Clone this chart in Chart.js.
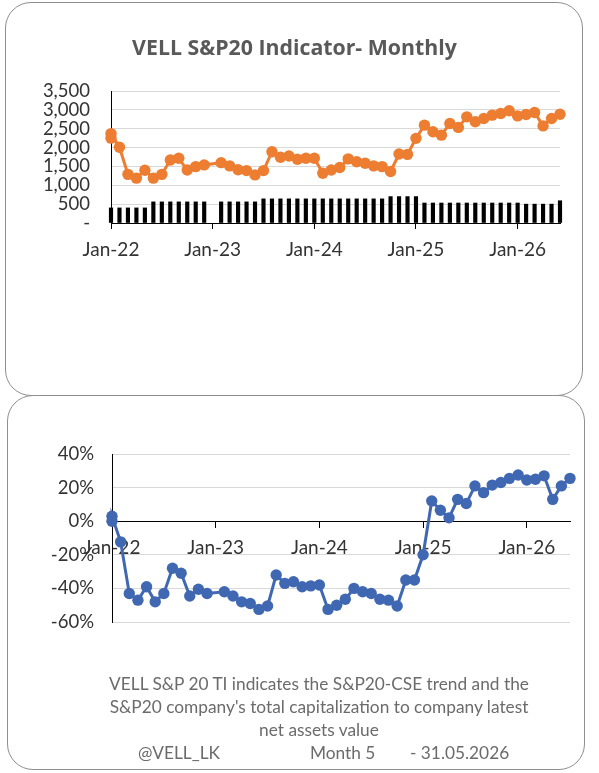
<!DOCTYPE html>
<html>
<head>
<meta charset="utf-8">
<script src="https://cdn.jsdelivr.net/npm/chart.js@4.4.1/dist/chart.umd.min.js"></script>
<style>
  body { margin: 0; background: #fff; }
  #page { position: relative; width: 599px; height: 773px; overflow: hidden; font-family: Lato, "Open Sans", sans-serif; }
  .panel { position: absolute; border: 1.3px solid #8f8f8f; border-radius: 26px; box-sizing: border-box; background: transparent; }
  #p1 { left: 5px; top: 2px; width: 578px; height: 394px; }
  #p2 { left: 7px; top: 395px; width: 578px; height: 375px; }
  canvas { position: absolute; left: 0; }
  #c1 { top: 0; }
  #c2 { top: 396px; }
  #title { position: absolute; left: 0; width: 589px; top: 32px; text-align: center; font-family: "Open Sans", Lato, sans-serif; font-weight: bold; font-size: 21.3px; color: #595959; }
  #note { position: absolute; left: 20px; width: 598px; top: 672px; text-align: center; font-size: 17.3px; line-height: 23px; color: #6b6b6b; }
  .foot { position: absolute; top: 741px; font-size: 17.3px; line-height: 23px; color: #6b6b6b; white-space: pre; }
</style>
</head>
<body>
<div id="page">
  <div class="panel" id="p1"></div>
  <div class="panel" id="p2"></div>
  <canvas id="c1" width="599" height="395"></canvas>
  <canvas id="c2" width="599" height="374"></canvas>
  <div id="title">VELL S&amp;P20 Indicator- Monthly</div>
  <div id="note">VELL S&amp;P 20 TI indicates the S&amp;P20-CSE trend and the<br>S&amp;P20 company's total capitalization to company latest<br>net assets value</div>
  <div class="foot" style="left:138px">@VELL_LK</div>
  <div class="foot" style="left:310px">Month 5</div>
  <div class="foot" style="left:410px">- 31.05.2026</div>
</div>
<script>
// months counted from Jan-22 (0 = start, 1 = end of Jan-22 ...), Dec-22 missing
var tickMonths = [0, 12, 24, 36, 48];
var tickLabels = ["Jan-22", "Jan-23", "Jan-24", "Jan-25", "Jan-26"];

var months = [0, 0, 1, 2, 3, 4, 5, 6, 7, 8, 9, 10, 11,
  13, 14, 15, 16, 17, 18, 19, 20, 21, 22, 23, 24,
  25, 26, 27, 28, 29, 30, 31, 32, 33, 34, 35, 36,
  37, 38, 39, 40, 41, 42, 43, 44, 45, 46, 47, 48,
  49, 50, 51, 52, 53];

var indicator = [2250, 2370, 2010, 1290, 1190, 1400, 1190, 1290, 1670, 1715, 1405, 1495, 1540,
  1600, 1515, 1410, 1390, 1275, 1390, 1890, 1745, 1775, 1690, 1715, 1715,
  1320, 1405, 1470, 1700, 1625, 1585, 1515, 1495, 1365, 1830, 1820, 2245,
  2595, 2420, 2330, 2640, 2535, 2815, 2685, 2770, 2860, 2905, 2975, 2840,
  2875, 2930, 2575, 2770, 2885];

var change = [0, 3, -12.3, -43, -47, -39, -48, -43, -28, -31, -44.5, -40.5, -43,
  -42, -44.5, -48, -49, -52.5, -50.5, -32, -37, -36, -39, -38.5, -38,
  -52.5, -50, -46.5, -40, -42, -43, -46.5, -47, -50.5, -35, -35, -20,
  12, 6.5, 2, 13, 10.5, 21, 17, 21.5, 23, 25.5, 27.5, 24.5,
  25, 27, 13, 21, 25.5];

var barMonths = months.slice(1);
var barValues = [400, 400, 400, 400, 400, 560, 560, 560, 560, 560, 560, 560,
  560, 560, 560, 560, 560, 640, 640, 640, 640, 640, 640, 640,
  640, 640, 640, 640, 640, 640, 640, 640, 700, 700, 700, 700,
  530, 530, 530, 530, 530, 530, 530, 530, 530, 530, 530, 530,
  500, 500, 500, 500, 590];

function pts(xs, ys) {
  return xs.map(function(x, i) { return { x: x, y: ys[i] }; });
}

var tickFont = { family: "Lato, 'Open Sans', sans-serif", size: 18.5 };
var dateFont = { family: "Lato, 'Open Sans', sans-serif", size: 19 };
var gridColor = "#d9d9d9";

function yearTicks(scale) {
  scale.ticks = tickMonths.map(function(v) { return { value: v }; });
}

var xAxis = function(extra) {
  var o = {
    type: "linear",
    min: 0,
    max: 53,
    offset: false,
    afterBuildTicks: yearTicks,
    grid: { drawOnChartArea: false, drawTicks: true, tickLength: 6, color: "#000", offset: false },
    border: { color: "#000", width: 1 },
    ticks: {
      autoSkip: false,
      maxRotation: 0,
      padding: 9,
      color: "#333",
      font: dateFont,
      callback: function(v) { return tickLabels[tickMonths.indexOf(v)]; }
    }
  };
  for (var k in extra) o[k] = extra[k];
  return o;
};

new Chart(document.getElementById("c1"), {
  data: {
    datasets: [
      {
        type: "line",
        data: pts(months, indicator),
        borderColor: "#ED7D31",
        backgroundColor: "#ED7D31",
        borderWidth: 3,
        pointRadius: 5.7,
        pointBorderWidth: 0,
        clip: false,
        order: 0
      },
      {
        type: "bar",
        data: pts(barMonths, barValues),
        backgroundColor: "#000",
        barThickness: 3.5,
        clip: false,
        order: 1
      }
    ]
  },
  options: {
    responsive: false,
    animation: false,
    layout: { padding: { left: 0, right: 39, top: 91, bottom: 132 } },
    plugins: { legend: { display: false }, tooltip: { enabled: false } },
    scales: {
      x: xAxis({ afterFit: function(s) { s.height = 40; } }),
      y: {
        min: 0,
        max: 3500,
        afterFit: function(s) { s.width = 111; },
        grid: { color: gridColor, drawTicks: false },
        border: { color: "#000", width: 1 },
        ticks: {
          stepSize: 500,
          autoSkip: false,
          padding: 21,
          color: "#333",
          font: tickFont,
          callback: function(v) { return v === 0 ? "-" : v.toLocaleString("en-US"); }
        }
      }
    }
  }
});

new Chart(document.getElementById("c2"), {
  type: "line",
  data: {
    datasets: [
      {
        data: pts(months, change),
        borderColor: "#4068B2",
        backgroundColor: "#4068B2",
        borderWidth: 3,
        pointRadius: 5.7,
        pointBorderWidth: 0,
        clip: false
      }
    ]
  },
  options: {
    responsive: false,
    animation: false,
    layout: { padding: { left: 0, right: 29, top: 58, bottom: 148 } },
    plugins: { legend: { display: false }, tooltip: { enabled: false } },
    scales: {
      x: xAxis({ position: { y: 0 } }),
      y: {
        min: -60,
        max: 40,
        afterFit: function(s) { s.width = 112; },
        grid: { color: gridColor, drawTicks: false },
        border: { color: "#000", width: 1 },
        ticks: {
          stepSize: 20,
          autoSkip: false,
          padding: 18,
          color: "#333",
          font: tickFont,
          callback: function(v) { return v + "%"; }
        }
      }
    }
  }
});
</script>
</body>
</html>
